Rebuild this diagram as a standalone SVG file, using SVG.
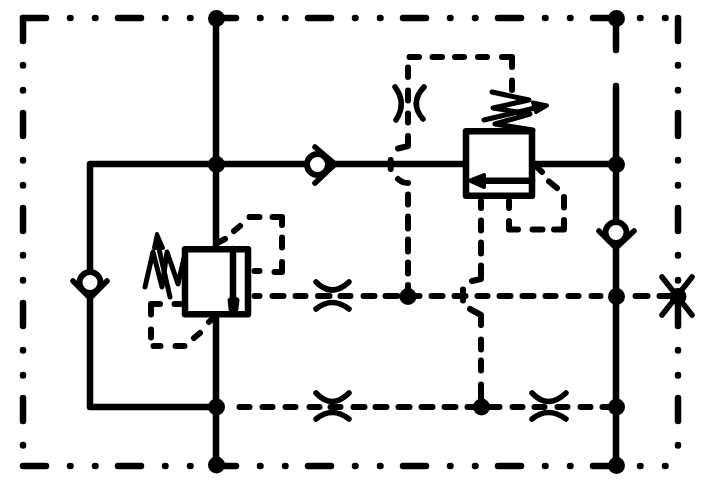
<svg xmlns="http://www.w3.org/2000/svg" width="706" height="498" viewBox="0 0 706 498">
<style>
.b{fill:none;stroke:#000;stroke-width:6.500;stroke-linecap:round;stroke-dasharray:23 24 .5 24.500 .5 22.500}
.s{fill:none;stroke:#000;stroke-width:6.500;stroke-linecap:round;stroke-linejoin:round}
.d{fill:none;stroke:#000;stroke-width:6;stroke-linecap:round;stroke-linejoin:round}
.t{fill:none;stroke:#000;stroke-width:5.500;stroke-linecap:round}
.z{fill:none;stroke:#000;stroke-width:5;stroke-linecap:round;stroke-linejoin:round}
.v{fill:#fff;stroke:#000;stroke-width:6.500;stroke-linejoin:round}
.c{fill:#fff;stroke:#000;stroke-width:6}
.h{fill:#000;stroke:#000;stroke-width:4;stroke-linejoin:round}
.n{fill:#000}
</style>
<rect width="706" height="498" fill="#fff"/>
<g id="boundary">
<path class="b" d="M23 18H678"/>
<path class="b" d="M23 18V466"/>
<path class="b" d="M678 18V466"/>
<path class="b" d="M23 466H678"/>
</g>
<g id="connectors">
<path class="s" d="M216 18V465"/>
<path class="s" d="M216 164H90V407H216"/>
<path class="s" d="M216 164H465"/>
<path class="s" d="M533 164H616"/>
<path class="s" d="M616 18V50M616 86V465"/>
<path id="pilot-upper-left" class="d" d="M409.500 57H419M432.500 57H442M455 57H464M478 57H487M502 57H512V67M512 80.500V90"/>
<path id="pilot-vertical-408" class="d" d="M408 67.500V77M408 90.500V100.500M408 113.500V122.500M408 136V146L398 148.500M390.700 160V169M398 179Q402 183 408 183M408 194.500V204.500M408 216.500V228.500M408 239.500V251.500M408 262.500V273.500M408 285V296"/>
<path id="pilot-box-right" class="d" d="M509 201V208M509 221V229.500H518M532.500 229.500H542.500M554 229.500H564V220M564 197V207.500M557 188L549 181.500M542 172L536 166"/>
<path id="pilot-481" class="d" d="M481 201V208M481 220.500V230.500M481 242.500V253.500M481 265.500V279L472 281M470 309L481 315V325M481 339.500V349.500M481 360.500V370.500M481 384.500V407"/>
<path id="pilot-y296" class="d" d="M254.500 296H259.500M272.500 296H283.500M295.500 296H305.500M318 296H329.500M340.500 296H350.500M363.500 296H374.500M385.500 296H397.500M408 296H419.500M431.500 296H442.500M454.500 296H465.500M463 289.500V300.500M477.500 296H487.500M499.500 296H510.500M522.500 296H533.500M545.500 296H555.500M568.500 296H578.500M591.500 296H600.500M635.500 296H647.500M659.500 296H670.500"/>
<path id="pilot-y407" class="d" d="M239.500 407H249.500M262.500 407H272.500M285.500 407H295.500M309.500 407H319.500M330.500 407H340.500M353.500 407H364.500M375.500 407H386.500M398.500 407H409.500M421.500 407H432.500M444.500 407H455.500M467.500 407H499.500M512.500 407H522.500M534.500 407H544.500M557.500 407H567.500M580.500 407H590.500M602.500 407H616"/>
<path id="pilot-left-upper" class="d" d="M219 242L225 239M234 231L240 226M249.500 217H259.500M272.500 217H282V225M282 237.500V247.500M282 262V272H274.500M254.500 271H259.500"/>
<path id="pilot-left-lower" class="d" d="M174.500 304H180M160 304H151V314.500M151 329.500V337.500M153.500 346H160.500M175.500 346H184.500M194 338L200 333M209 322L214 317"/>
</g>
<g id="valve-left">
<rect class="v" x="185" y="249.300" width="63" height="65"/>
<path class="s" d="M233 249V310"/>
<path class="h" d="M229.500 300Q233.500 296 237.500 300L236 312H231Z"/>
<path class="z" d="M145 287L153 252L162 287L167 252L178 284L184 258"/>
<path class="z" d="M170 297L157 240"/>
<path class="h" d="M157 234L163 248H154Z"/>
</g>
<g id="valve-right">
<rect class="v" x="466" y="131.300" width="66" height="64.500"/>
<path class="s" d="M532 180.700H480"/>
<path class="h" d="M470 180.700L484 175V187Z"/>
<path class="z" d="M492 92L529 100L493 108L530 114L495 124L533 130"/>
<path class="z" d="M484 120L535 108"/>
<path class="h" d="M547 105.500L533 102.500L536 112Z"/>
</g>
<g id="check-top">
<path class="t" d="M315 147L335 164L315 183"/>
<circle class="c" cx="317.500" cy="164.500" r="10.500"/>
</g>
<g id="check-left">
<path class="t" d="M73 281L90 298L107 281"/>
<circle class="c" cx="90" cy="282.500" r="10.500"/>
</g>
<g id="check-right">
<path class="t" d="M599 231L616 248L634 231"/>
<circle class="c" cx="616" cy="232.500" r="10.500"/>
</g>
<g id="throttle-a">
<path class="t" d="M395 87Q407 103 396 120M424 87Q409 103 423 119"/>
</g>
<g id="throttle-b">
<path class="t" d="M316 282Q332 298 349 282M316 309Q332 296 349 309"/>
</g>
<g id="throttle-c">
<path class="t" d="M316 393Q332 410 349 393M316 419Q332 406 349 419"/>
</g>
<g id="throttle-d">
<path class="t" d="M532 393Q548 410 566 393M532 419Q548 406 566 419"/>
</g>
<g id="plug">
<path class="t" d="M662 277L692 315M692 277L662 315"/>
</g>
<g id="junctions">
<circle class="n" cx="216.500" cy="18.500" r="8.500"/>
<circle class="n" cx="216.500" cy="164.500" r="8.500"/>
<circle class="n" cx="216.500" cy="407" r="8.500"/>
<circle class="n" cx="216.500" cy="465" r="8.500"/>
<circle class="n" cx="616.500" cy="18.500" r="8.500"/>
<circle class="n" cx="616.500" cy="164.500" r="8.500"/>
<circle class="n" cx="616.500" cy="296.500" r="8.500"/>
<circle class="n" cx="616.500" cy="407" r="8.500"/>
<circle class="n" cx="616.500" cy="465.500" r="8.500"/>
<circle class="n" cx="408" cy="296.500" r="8.500"/>
<circle class="n" cx="481.500" cy="407" r="8.500"/>
<circle class="n" cx="678" cy="296.500" r="8.500"/>
</g>
</svg>
